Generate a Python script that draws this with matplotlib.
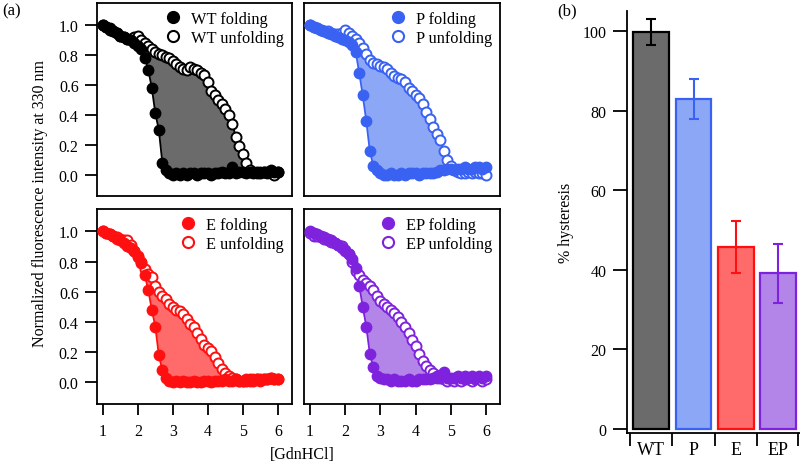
import matplotlib
matplotlib.use("Agg")
import matplotlib.pyplot as plt
from matplotlib.lines import Line2D

plt.rcParams['font.family'] = ['Liberation Serif', 'DejaVu Serif']
plt.rcParams['font.size'] = 11.5

# denaturant concentration (M)
gdn = [1.0, 1.1, 1.2, 1.3, 1.4, 1.5, 1.6, 1.7, 1.8, 1.9,
       2.0, 2.1, 2.2, 2.3, 2.4, 2.5, 2.6, 2.7, 2.8, 2.9,
       3.0, 3.1, 3.2, 3.3, 3.4, 3.5, 3.6, 3.7, 3.8, 3.9,
       4.0, 4.1, 4.2, 4.3, 4.4, 4.5, 4.6, 4.7, 4.8, 4.9,
       5.0, 5.1, 5.2, 5.3, 5.4, 5.5, 5.6, 5.7, 5.8, 5.9, 6.0]

wt_fold = [1.00, 0.99, 0.98, 0.96, 0.95, 0.93, 0.92, 0.91, 0.90, 0.88,
           0.86, 0.84, 0.78, 0.70, 0.58, 0.41, 0.30, 0.08, 0.03, 0.01,
           0.00, 0.01, 0.00, 0.01, 0.00, 0.01, 0.01, 0.00, 0.01, 0.01,
           0.01, 0.00, 0.01, 0.01, 0.02, 0.01, 0.01, 0.05, 0.01, 0.02,
           0.02, 0.01, 0.02, 0.01, 0.01, 0.02, 0.02, 0.01, 0.03, 0.02, 0.02]
wt_unfold = [1.00, 0.99, 0.97, 0.96, 0.95, 0.93, 0.92, 0.91, 0.91, 0.92,
             0.93, 0.90, 0.88, 0.86, 0.84, 0.82, 0.81, 0.80, 0.79, 0.78,
             0.76, 0.74, 0.72, 0.71, 0.70, 0.72, 0.71, 0.70, 0.68, 0.67,
             0.62, 0.56, 0.53, 0.50, 0.47, 0.44, 0.40, 0.34, 0.25, 0.19,
             0.14, 0.08, 0.03, 0.02, 0.02, 0.01, 0.02, 0.02, 0.01, 0.00, 0.02]

p_fold = [1.00, 0.99, 0.98, 0.97, 0.96, 0.95, 0.94, 0.93, 0.92, 0.91,
          0.90, 0.89, 0.87, 0.82, 0.68, 0.53, 0.36, 0.16, 0.06, 0.03,
          0.01, 0.00, 0.00, 0.01, 0.00, 0.00, 0.01, 0.00, 0.01, 0.01,
          0.01, 0.00, 0.01, 0.01, 0.01, 0.01, 0.02, 0.03, 0.03, 0.04,
          0.04, 0.03, 0.04, 0.04, 0.05, 0.04, 0.04, 0.05, 0.05, 0.04, 0.05]
p_unfold = [1.00, 0.99, 0.98, 0.97, 0.96, 0.96, 0.95, 0.94, 0.94, 0.95,
            0.97, 0.95, 0.93, 0.91, 0.88, 0.85, 0.81, 0.77, 0.75, 0.74,
            0.73, 0.72, 0.71, 0.68, 0.66, 0.65, 0.64, 0.62, 0.58, 0.56,
            0.53, 0.51, 0.47, 0.42, 0.37, 0.32, 0.27, 0.23, 0.16, 0.10,
            0.06, 0.03, 0.02, 0.01, 0.01, 0.02, 0.01, 0.02, 0.01, 0.01, 0.00]

e_fold = [1.00, 0.99, 0.98, 0.97, 0.95, 0.94, 0.92, 0.90, 0.89, 0.87,
          0.83, 0.79, 0.71, 0.61, 0.48, 0.37, 0.18, 0.08, 0.03, 0.01,
          0.00, 0.01, 0.00, 0.01, 0.00, 0.00, 0.01, 0.00, 0.00, 0.01,
          0.01, 0.00, 0.01, 0.01, 0.01, 0.02, 0.01, 0.01, 0.02, 0.01,
          0.01, 0.02, 0.01, 0.02, 0.02, 0.01, 0.02, 0.02, 0.03, 0.02, 0.02]
e_unfold = [1.00, 0.99, 0.98, 0.97, 0.96, 0.95, 0.94, 0.94, 0.91, 0.87,
            0.84, 0.80, 0.75, 0.72, 0.70, 0.64, 0.60, 0.57, 0.55, 0.52,
            0.50, 0.48, 0.47, 0.45, 0.42, 0.39, 0.37, 0.33, 0.29, 0.25,
            0.23, 0.21, 0.17, 0.13, 0.09, 0.06, 0.04, 0.03, 0.02, 0.01,
            0.01, 0.01, 0.02, 0.01, 0.02, 0.02, 0.02, 0.02, 0.03, 0.02, 0.02]

ep_fold = [1.00, 0.99, 0.98, 0.97, 0.96, 0.95, 0.94, 0.92, 0.91, 0.89,
           0.87, 0.85, 0.82, 0.76, 0.64, 0.50, 0.37, 0.19, 0.10, 0.04,
           0.03, 0.02, 0.02, 0.01, 0.02, 0.01, 0.01, 0.01, 0.02, 0.01,
           0.01, 0.02, 0.02, 0.02, 0.02, 0.03, 0.03, 0.05, 0.07, 0.03,
           0.03, 0.03, 0.04, 0.03, 0.04, 0.03, 0.04, 0.03, 0.04, 0.03, 0.04]
ep_unfold = [0.99, 0.97, 0.97, 0.96, 0.95, 0.94, 0.93, 0.92, 0.91, 0.90,
             0.88, 0.85, 0.80, 0.74, 0.71, 0.68, 0.66, 0.64, 0.61, 0.57,
             0.54, 0.52, 0.50, 0.48, 0.46, 0.43, 0.40, 0.37, 0.33, 0.28,
             0.24, 0.19, 0.14, 0.11, 0.08, 0.06, 0.04, 0.03, 0.02, 0.01,
             0.02, 0.01, 0.02, 0.01, 0.02, 0.02, 0.01, 0.02, 0.02, 0.01, 0.02]

variants = ['WT', 'P', 'E', 'EP']
hysteresis = [99.7, 82.9, 45.8, 39.1]
hyst_err = [3.3, 5.1, 6.5, 7.4]

line_colors = ['#000000', '#3a62f2', '#ff1010', '#7f22dd']
fill_colors = ['#6b6b6b', '#8da7f7', '#ff6a6a', '#b385e9']

curves = [(wt_fold, wt_unfold), (p_fold, p_unfold), (e_fold, e_unfold), (ep_fold, ep_unfold)]

fig = plt.figure(figsize=(8, 4.64), dpi=100)

# panel positions in figure fraction
boxes = [[0.121, 0.576, 0.244, 0.416],
         [0.380, 0.576, 0.245, 0.416],
         [0.121, 0.128, 0.244, 0.420],
         [0.380, 0.128, 0.245, 0.420]]

for i in range(4):
    ax = fig.add_axes(boxes[i])
    fold, unfold = curves[i]
    c = line_colors[i]
    ax.fill_between(gdn, fold, unfold, color=fill_colors[i], lw=0, zorder=1)
    ax.plot(gdn, unfold, '-', color=c, lw=1.3, zorder=2)
    ax.plot(gdn, fold, '-', color=c, lw=1.3, zorder=2)
    ax.plot(gdn, unfold, 'o', mfc='white', mec=c, mew=1.4, ms=7.2, zorder=3)
    ax.plot(gdn, fold, 'o', mfc=c, mec=c, ms=7.5, zorder=4)
    ax.set_xlim(0.83, 6.4)
    ax.set_ylim(-0.14, 1.15)
    for s in ax.spines.values():
        s.set_linewidth(1.3)
    ax.set_yticks([0.0, 0.2, 0.4, 0.6, 0.8, 1.0])
    ax.set_xticks([1, 2, 3, 4, 5, 6])
    ax.tick_params(direction='out', length=9, width=1.3, pad=4)
    ax.tick_params(axis='x', length=8, pad=6)
    if i % 2 == 1:
        ax.tick_params(axis='y', left=False, labelleft=False)
    if i < 2:
        ax.tick_params(axis='x', bottom=False, labelbottom=False)
    handles = [Line2D([], [], ls='none', marker='o', mfc=c, mec=c, ms=8.5),
               Line2D([], [], ls='none', marker='o', mfc='white', mec=c, mew=1.5, ms=8)]
    name = variants[i]
    ax.legend(handles, [name + ' folding', name + ' unfolding'], loc='upper right',
              frameon=False, borderaxespad=0.1, handlelength=1.0, handletextpad=0.6,
              labelspacing=0.2, fontsize=11.8)

fig.text(0.05, 0.562, 'Normalized fluorescence intensity at 330 nm', rotation=90,
         ha='center', va='center', fontsize=11.5)
fig.text(0.378, 0.02, '[GdnHCl]', ha='center', va='center', fontsize=11.5)
fig.text(0.003, 0.975, '(a)', ha='left', va='center', fontsize=12)
fig.text(0.696, 0.975, '(b)', ha='left', va='center', fontsize=12)

# (b) hysteresis bars
axb = fig.add_axes([0.784, 0.0647, 0.216, 0.909])
pos = [0, 1, 2, 3]
for k in range(4):
    axb.bar(pos[k], hysteresis[k], width=0.85, color=fill_colors[k],
            edgecolor=line_colors[k], linewidth=1.6, zorder=2)
    axb.errorbar(pos[k], hysteresis[k], yerr=hyst_err[k], color=line_colors[k],
                 capsize=3.5, elinewidth=1.5, capthick=1.5, zorder=3)
axb.set_xlim(-0.57, 3.52)
axb.set_ylim(-1, 105)
axb.spines['top'].set_visible(False)
axb.spines['right'].set_visible(False)
axb.spines['left'].set_linewidth(1.3)
axb.spines['bottom'].set_linewidth(1.3)
axb.set_yticks([0, 20, 40, 60, 80, 100])
axb.tick_params(axis='y', direction='out', length=10, width=1.3, pad=5)
axb.set_xticks([-0.5, 0.5, 1.5, 2.5, 3.48])
axb.set_xticklabels([])
axb.set_xticks(pos, minor=True)
axb.set_xticklabels(variants, minor=True, fontsize=13)
axb.tick_params(axis='x', which='major', direction='out', length=9, width=1.3)
axb.tick_params(axis='x', which='minor', length=0, pad=6)
axb.set_ylabel('% hysteresis', labelpad=6)

fig.savefig('out.png', dpi=100)
